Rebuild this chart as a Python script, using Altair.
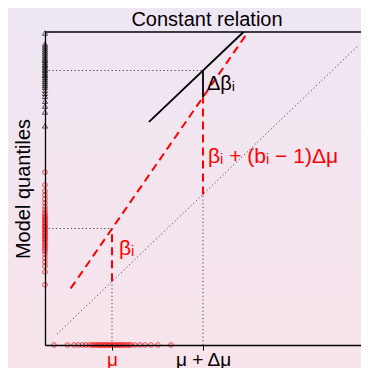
import altair as alt
import pandas as pd

W, H = 316, 313

# x-axis marks
mu = 6.7
mu_dmu = 15.8
tick_values = [mu, mu_dmu]
tick_labels = ["μ", "μ + Δμ"]
chart_title = ["Constant relation"]

# observed quantiles (triangles) along the y axis
tri_y = [31.6, 30.5, 30.3, 30.1, 29.9, 29.7, 29.5, 29.3, 29.1, 28.9, 28.8, 28.6,
         28.4, 28.3, 28.1, 27.9, 27.8, 27.6, 27.4, 27.3, 27.1, 26.9, 26.7, 26.5,
         26.3, 26.1, 25.8, 25.5, 25.2, 24.7, 24.2, 23.6, 22.2]

# model quantiles (red circles) along the y axis
circ_y = [17.5, 16.2, 15.6, 15.2, 14.8, 14.4, 14.0, 13.7, 13.4, 13.2, 13.0, 12.9,
          12.7, 12.6, 12.4, 12.3, 12.1, 12.0, 11.9, 11.7, 11.6, 11.4, 11.3, 11.1,
          11.0, 10.8, 10.7, 10.5, 10.3, 10.1, 9.9, 9.7, 9.5, 9.2, 8.8, 8.4, 8.0,
          7.4, 6.1]

# quantiles (red circles) along the x axis
circ_x = [0.9, 2.25, 2.9, 3.35, 3.75, 4.1, 4.45, 4.7, 4.9, 5.1, 5.3, 5.45, 5.6,
          5.8, 5.95, 6.1, 6.3, 6.45, 6.6, 6.8, 6.95, 7.1, 7.3, 7.45, 7.6, 7.8,
          8.0, 8.2, 8.4, 8.6, 9.0, 9.5, 10.0, 10.6, 11.3, 12.6]

# dotted guide segments
dot_x1 = [1.2, 6.7, 15.8, 0.0, 0.0]
dot_y1 = [1.1, 0.0, 0.0, 11.8, 27.8]
dot_x2 = [31.4, 6.7, 15.8, 6.7, 15.8]
dot_y2 = [30.4, 6.45, 15.25, 11.8, 27.8]

# red dashed segments
red_x1 = [2.57, 6.7, 15.8]
red_y1 = [5.73, 6.45, 15.25]
red_x2 = [20.3, 6.7, 15.8]
red_y2 = [31.7, 11.8, 25.1]

# black solid segments
blk_x1 = [10.4, 15.8]
blk_y1 = [22.6, 25.1]
blk_x2 = [19.85, 15.8]
blk_y2 = [31.7, 27.8]

# annotations
ann_black_text = ["Δβᵢ"]
ann_black_x = [16.2]
ann_black_y = [25.8]
ann_red_text = ["βᵢ", "βᵢ + (bᵢ − 1)Δμ"]
ann_red_x = [7.4, 16.3]
ann_red_y = [9.1, 18.4]

FONT = "Liberation Sans"
xs = alt.Scale(domain=[0, 31.6], nice=False, zero=False)
ys = alt.Scale(domain=[0, 31.7], nice=False, zero=False)

label_expr = f"datum.value < 10 ? '{tick_labels[0]}' : '{tick_labels[1]}'"
ax = alt.Axis(values=tick_values, labelExpr=label_expr, title=None, grid=False,
              ticks=True, tickSize=5, tickColor="black", tickWidth=1,
              domainColor="black", domainWidth=1.3, labelFontSize=19,
              labelFont=FONT, labelPadding=0, labelFlush=False, zindex=1,
              labelColor={"condition": {"test": "datum.value < 10", "value": "red"},
                          "value": "black"})
ay = alt.Axis(title="Model quantiles", labels=False, ticks=False, grid=False,
              domainColor="black", domainWidth=1.3, titleFontSize=20,
              titleFontWeight="normal", titleFont=FONT, titleColor="black",
              titlePadding=12, zindex=1)


def X(f):
    return alt.X(f, scale=xs, axis=ax)


def Y(f):
    return alt.Y(f, scale=ys, axis=ay)


one = pd.DataFrame({"k": [0]})
bg = alt.Chart(one).mark_rect(
    color={"gradient": "linear", "x1": 0, "y1": 0, "x2": 0, "y2": 1,
           "stops": [{"offset": 0, "color": "#EEE6F3"},
                     {"offset": 1, "color": "#F8E4EB"}]}
).encode(x=alt.value(-40), x2=alt.value(W + 5), y=alt.value(-30), y2=alt.value(H + 40))

dotted = alt.Chart(pd.DataFrame({"x1": dot_x1, "y1": dot_y1, "x2": dot_x2, "y2": dot_y2})).mark_rule(
    color="#444444", strokeWidth=1, strokeDash=[1.2, 2.5]
).encode(x=X("x1:Q"), y=Y("y1:Q"), x2="x2:Q", y2="y2:Q")

red = alt.Chart(pd.DataFrame({"x1": red_x1, "y1": red_y1, "x2": red_x2, "y2": red_y2})).mark_rule(
    color="#FF0000", strokeWidth=2, strokeDash=[8, 5]
).encode(x=X("x1:Q"), y=Y("y1:Q"), x2="x2:Q", y2="y2:Q")

blk = alt.Chart(pd.DataFrame({"x1": blk_x1, "y1": blk_y1, "x2": blk_x2, "y2": blk_y2})).mark_rule(
    color="black", strokeWidth=1.8
).encode(x=X("x1:Q"), y=Y("y1:Q"), x2="x2:Q", y2="y2:Q")

top = alt.Chart(one).mark_rule(color="black", strokeWidth=1.3).encode(
    x=alt.value(0), x2=alt.value(W), y=alt.value(0))

title = alt.Chart(pd.DataFrame({"t": chart_title})).mark_text(
    align="center", baseline="alphabetic", fontSize=20, font=FONT, color="black"
).encode(x=alt.value(162), y=alt.value(-6), text="t:N")

tri = alt.Chart(pd.DataFrame({"x": [0.0] * len(tri_y), "y": tri_y})).mark_point(
    shape="triangle-up", filled=False, color="black", size=28, strokeWidth=0.9
).encode(x=X("x:Q"), y=Y("y:Q"))

cy = alt.Chart(pd.DataFrame({"x": [0.0] * len(circ_y), "y": circ_y})).mark_point(
    shape="circle", filled=False, color="#FF0000", size=22, strokeWidth=1
).encode(x=X("x:Q"), y=Y("y:Q"))

cx = alt.Chart(pd.DataFrame({"x": circ_x, "y": [0.0] * len(circ_x)})).mark_point(
    shape="circle", filled=False, color="#FF0000", size=22, strokeWidth=1
).encode(x=X("x:Q"), y=Y("y:Q"))

tb = alt.Chart(pd.DataFrame({"x": ann_black_x, "y": ann_black_y, "t": ann_black_text})).mark_text(
    align="left", baseline="alphabetic", fontSize=20, font=FONT, color="black"
).encode(x=X("x:Q"), y=Y("y:Q"), text="t:N")

tr = alt.Chart(pd.DataFrame({"x": ann_red_x, "y": ann_red_y, "t": ann_red_text})).mark_text(
    align="left", baseline="alphabetic", fontSize=21, font=FONT, color="#FF0000"
).encode(x=X("x:Q"), y=Y("y:Q"), text="t:N")

chart = alt.layer(bg, dotted, red, blk, top, title, tri, cy, cx, tb, tr).properties(
    width=W, height=H,
    padding={"left": 37, "top": 24, "right": 0, "bottom": 23},
    autosize=alt.AutoSizeParams(type="none"),
    background="#F3E5EF",
).configure_view(strokeWidth=0)

chart.save("out.html", embed_options={"renderer": "svg", "actions": False})
